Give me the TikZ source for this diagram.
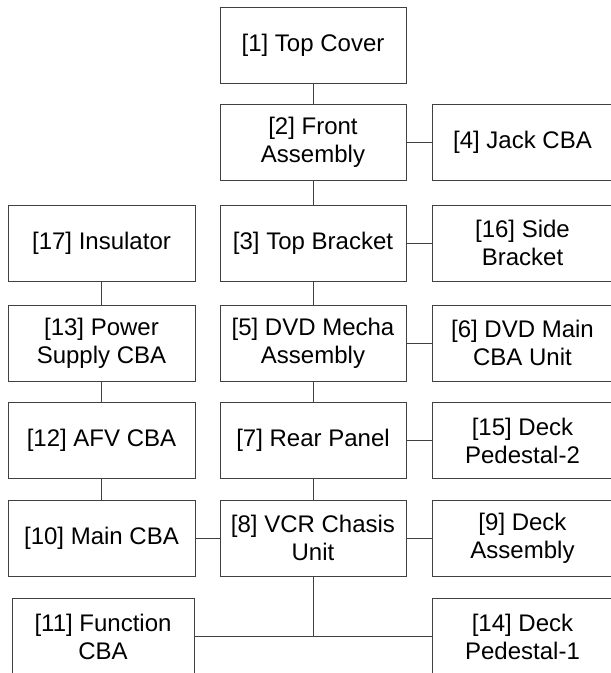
\documentclass[tikz,border=0pt]{standalone}
\usepackage{fontspec}
\setmainfont{Liberation Sans}
\usetikzlibrary{positioning}

\begin{document}
\begin{tikzpicture}[x=1pt, y=-1pt,
    part/.style={draw=black!75, line width=0.9pt, minimum width=186pt, minimum height=76pt,
        inner sep=0pt, align=center, font=\fontsize{24}{28}\selectfont},
    link/.style={draw=black!75, line width=0.9pt}]
    \useasboundingbox (0,0) rectangle (611,673);

    % Centre column
    \node[part] (topcover) at (313,45) {[1] Top Cover};
    \node[part] (front) at (313,142) {[2] Front\\Assembly};
    \node[part] (topbracket) at (313,243) {[3] Top Bracket};
    \node[part] (mecha) at (313,343) {[5] DVD Mecha\\Assembly};
    \node[part] (rearpanel) at (313,440.5) {[7] Rear Panel};
    \node[part] (chasis) at (313,538) {[8] VCR Chasis\\Unit};

    % Left column
    \node[part, minimum width=187pt] (insulator) at (101.5,243) {[17] Insulator};
    \node[part, minimum width=187pt] (power) at (101.5,343) {[13] Power\\Supply CBA};
    \node[part, minimum width=187pt] (afv) at (101.5,440.5) {[12] AFV CBA};
    \node[part, minimum width=187pt] (maincba) at (101.5,538) {[10] Main CBA};

    % Right column (runs past the page edge)
    \node[part, minimum width=181pt] (jack) at (522.5,142) {[4] Jack CBA};
    \node[part, minimum width=181pt] (sidebracket) at (522.5,243) {[16] Side\\Bracket};
    \node[part, minimum width=181pt] (dvdmain) at (522.5,343) {[6] DVD Main\\CBA Unit};
    \node[part, minimum width=181pt] (pedestaltwo) at (522.5,440.5) {[15] Deck\\Pedestal-2};
    \node[part, minimum width=181pt] (deck) at (522.5,538) {[9] Deck\\Assembly};

    % Bottom row (cut off by the page)
    \node[part, minimum width=182pt] (function) at (103,636.5) {[11] Function\\CBA};
    \node[part, minimum width=181pt] (pedestalone) at (522.5,636.5) {[14] Deck\\Pedestal-1};
    \coordinate (split) at (313,636.5);

    % Connectors
    \draw[link] (topcover) -- (front);
    \draw[link] (front) -- (topbracket);
    \draw[link] (topbracket) -- (mecha);
    \draw[link] (mecha) -- (rearpanel);
    \draw[link] (rearpanel) -- (chasis);
    \draw[link] (front) -- (jack);
    \draw[link] (topbracket) -- (sidebracket);
    \draw[link] (mecha) -- (dvdmain);
    \draw[link] (rearpanel) -- (pedestaltwo);
    \draw[link] (chasis) -- (deck);
    \draw[link] (maincba) -- (chasis);
    \draw[link] (insulator) -- (power);
    \draw[link] (power) -- (afv);
    \draw[link] (afv) -- (maincba);
    \draw[link] (chasis) -- (split);
    \draw[link] (function) -- (pedestalone);
\end{tikzpicture}
\end{document}
